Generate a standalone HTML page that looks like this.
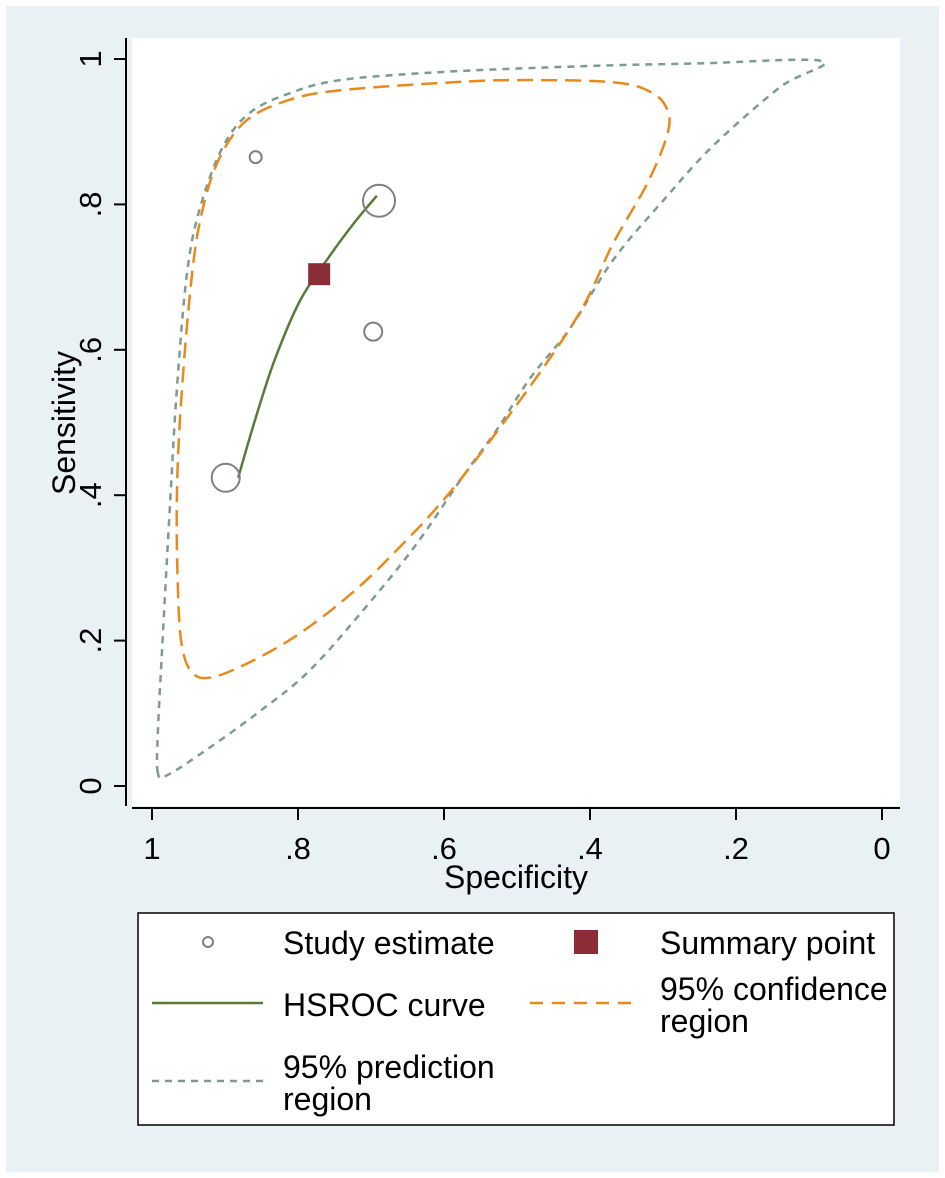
<!DOCTYPE html>
<html><head><meta charset="utf-8">
<style>
html,body{margin:0;padding:0;background:#fff;}
svg{display:block;font-family:"Liberation Sans",Arial,sans-serif;}
</style></head>
<body>
<svg id="chart" width="945" height="1178" viewBox="0 0 945 1178">
<rect x="6" y="6" width="933" height="1166" fill="#eaf1f4"/>
<rect x="132" y="38" width="768" height="768" fill="#ffffff"/>
<g id="axes"></g>
<g id="series"></g>
<text x="516" y="888" font-size="32" text-anchor="middle">Specificity</text>
<text transform="translate(75,423) rotate(-90)" font-size="32" text-anchor="middle">Sensitivity</text>
<g>
<rect x="138" y="913" width="756" height="212" fill="#fff" stroke="#000" stroke-width="1.5"/>
<circle cx="208" cy="942" r="5" fill="none" stroke="#808080" stroke-width="2"/>
<text x="283" y="954" font-size="32">Study estimate</text>
<rect x="574" y="930" width="24" height="24" fill="#8b2d37"/>
<text x="660" y="954" font-size="32">Summary point</text>
<line x1="152" y1="1003" x2="263" y2="1003" stroke="#5a7a3a" stroke-width="2.5"/>
<text x="283" y="1016" font-size="32">HSROC curve</text>
<line x1="530" y1="1003" x2="635" y2="1003" stroke="#e8891c" stroke-width="2.5" stroke-dasharray="13,9"/>
<text x="660" y="1000" font-size="32">95% confidence</text>
<text x="660" y="1032" font-size="32">region</text>
<line x1="152" y1="1081" x2="263" y2="1081" stroke="#7d9b90" stroke-width="2.5" stroke-dasharray="7,6"/>
<text x="283" y="1078" font-size="32">95% prediction</text>
<text x="283" y="1110" font-size="32">region</text>
</g>
</svg>
<script>
const xTicks=[1,0.8,0.6,0.4,0.2,0];
const xTickLabels=["1",".8",".6",".4",".2","0"];
const yTicks=[0,0.2,0.4,0.6,0.8,1];
const yTickLabels=["0",".2",".4",".6",".8","1"];
const confSpec=[.921,.944,.958,.964,.966,.960,.945,.930,.907,.870,.811,.742,.605,.505,.368,.314,.293,.295,.322,.368,.427,.574,.674,.742,.811,.879];
const confSens=[.149,.155,.187,.256,.393,.531,.706,.796,.865,.916,.944,.957,.967,.971,.968,.953,.927,.893,.828,.747,.630,.426,.315,.252,.201,.164];
const predSpec=[.992,.992,.985,.975,.966,.952,.934,.903,.866,.811,.742,.605,.414,.249,.082,.140,.232,.300,.368,.427,.482,.527,.574,.642,.719,.788,.856,.925,.979];
const predSens=[.018,.073,.210,.393,.545,.706,.796,.879,.926,.953,.971,.982,.990,.994,.997,.961,.880,.805,.724,.630,.561,.491,.426,.327,.232,.155,.100,.050,.015];
const hsrocSpec=[.882,.859,.832,.797,.756,.722,.692];
const hsrocSens=[.424,.503,.586,.668,.730,.776,.812];
const studySpec=[.858,.689,.697,.899];
const studySens=[.865,.805,.625,.424];
const studyWeight=[6,16,9,14];
const summarySpec=[.771];
const summarySens=[.704];

const NS='http://www.w3.org/2000/svg';
const X=v=>882-730*v;
const Y=v=>786-727*v;
function mk(tag,attrs,parent){const e=document.createElementNS(NS,tag);for(const k in attrs)e.setAttribute(k,attrs[k]);parent.appendChild(e);return e;}
const axes=document.getElementById('axes');
const series=document.getElementById('series');
let a=mk('line',{x1:126,y1:38,x2:126,y2:806,stroke:'#000','stroke-width':2},axes);


a=mk('line',{x1:132,y1:808,x2:900,y2:808,stroke:'#000','stroke-width':2},axes);


xTicks.forEach((v,i)=>{
 const t=mk('line',{x1:X(v),y1:808,x2:X(v),y2:820,stroke:'#000','stroke-width':2},axes);
 
 
 const l=mk('text',{x:X(v),y:859,'font-size':31,'text-anchor':'middle'},axes);
 l.textContent=xTickLabels[i];
 
 
});
yTicks.forEach((v,i)=>{
 const t=mk('line',{x1:114,y1:Y(v),x2:126,y2:Y(v),stroke:'#000','stroke-width':2},axes);
 
 
 const l=mk('text',{transform:`translate(101,${Y(v)}) rotate(-90)`,'font-size':31,'text-anchor':'middle'},axes);
 l.textContent=yTickLabels[i];
 
 
});
function smooth(xs,ys,closed){
 const p=xs.map((v,i)=>[X(v),Y(ys[i])]);const n=p.length;
 const g=i=>closed?p[(i+n)%n]:p[Math.max(0,Math.min(n-1,i))];
 let d=`M${p[0][0]},${p[0][1]}`;
 const segs=closed?n:n-1;
 for(let i=0;i<segs;i++){const p0=g(i-1),p1=g(i),p2=g(i+1),p3=g(i+2);
  d+=` C${p1[0]+(p2[0]-p0[0])/6},${p1[1]+(p2[1]-p0[1])/6} ${p2[0]-(p3[0]-p1[0])/6},${p2[1]-(p3[1]-p1[1])/6} ${p2[0]},${p2[1]}`;}
 return d+(closed?'Z':'');
}
let s=mk('path',{d:smooth(predSpec,predSens,true),fill:'none',stroke:'#7d9b90','stroke-width':2.5,'stroke-dasharray':'7,6'},series);


s=mk('path',{d:smooth(confSpec,confSens,true),fill:'none',stroke:'#e8891c','stroke-width':2.5,'stroke-dasharray':'16,8'},series);


s=mk('path',{d:smooth(hsrocSpec,hsrocSens,false),fill:'none',stroke:'#5a7a3a','stroke-width':2.5},series);


studySpec.forEach((v,i)=>{
 const c=mk('circle',{cx:X(v),cy:Y(studySens[i]),r:studyWeight[i],fill:'none',stroke:'#808080','stroke-width':2},series);
 
 
});
summarySpec.forEach((v,i)=>{
 const r=mk('rect',{x:X(v)-11,y:Y(summarySens[i])-11,width:22,height:22,fill:'#8b2d37'},series);
 
 
});
</script>
</body></html>
